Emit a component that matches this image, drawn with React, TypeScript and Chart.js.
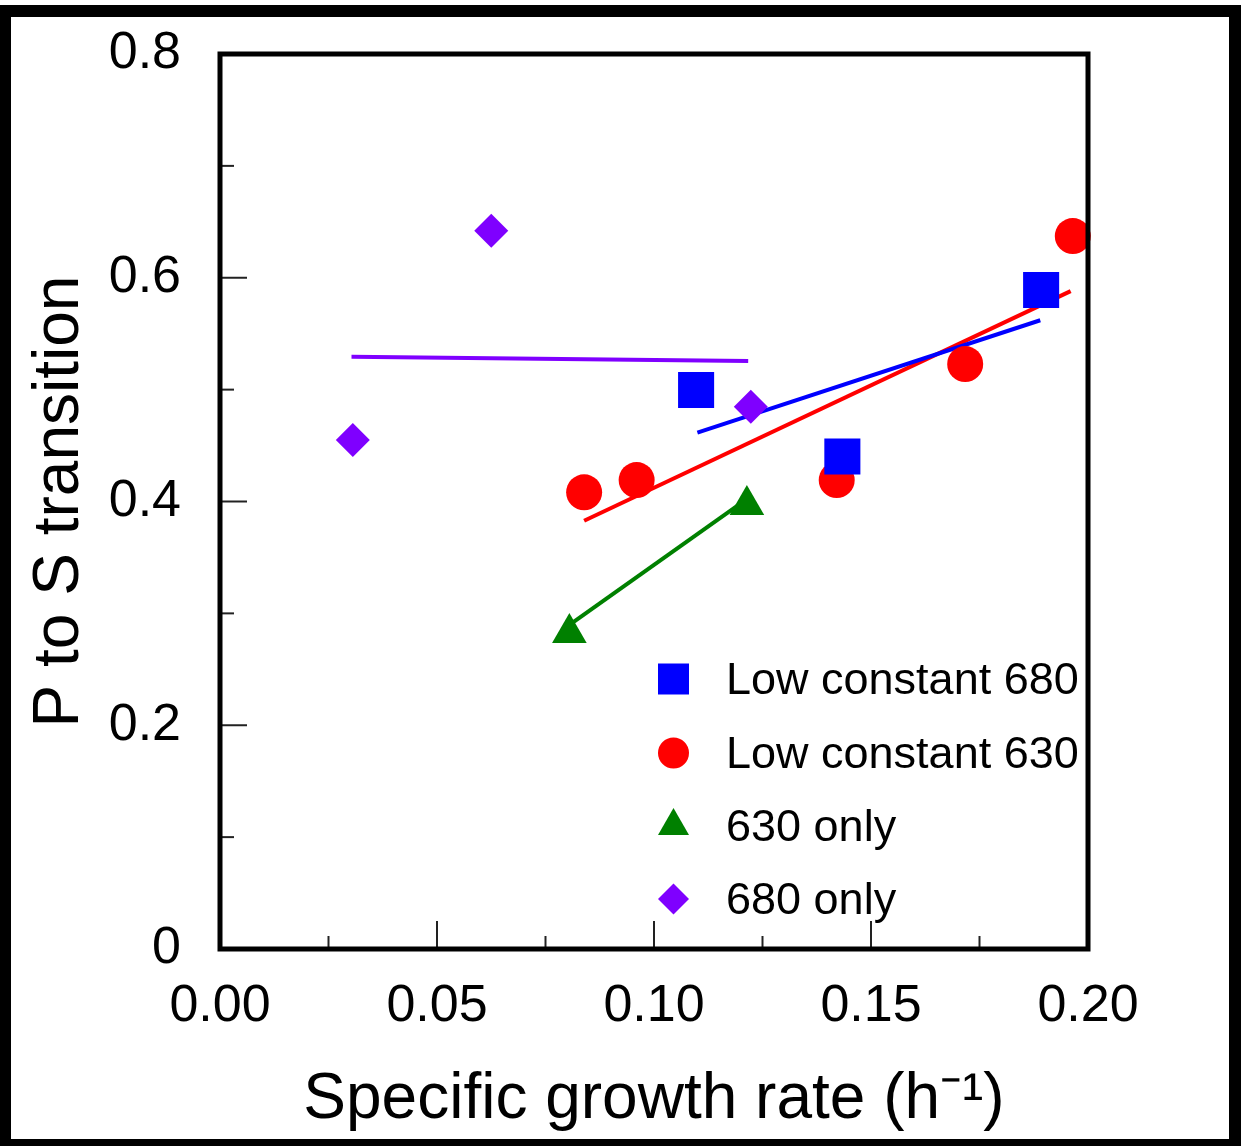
import React, { useEffect, useRef } from 'react';
import { Chart, registerables } from 'chart.js';

Chart.register(...registerables);

const FONT = '"Liberation Sans", Arial, Helvetica, sans-serif';

// Series meta
const seriesNames = ['Low constant 680', 'Low constant 630', '630 only', '680 only'];
const seriesColors = ['#0000ff', '#ff0000', '#008000', '#7f00ff'];
const seriesShapes = ['rect', 'circle', 'triangle', 'rectRot'];
const seriesRadius = [25.5, 18, 20, 17];

// Measured points
const lowConst680X = [0.1097, 0.1434, 0.1892];
const lowConst680Y = [0.4997, 0.4402, 0.589];
const lowConst630X = [0.0839, 0.096, 0.1421, 0.1717, 0.1965];
const lowConst630Y = [0.4082, 0.4192, 0.4192, 0.5229, 0.6373];
const only630X = [0.0805, 0.1214];
const only630Y = [0.2825, 0.3969];
const only680X = [0.0306, 0.0625, 0.1223];
const only680Y = [0.455, 0.642, 0.4847];

// Trend lines (end points)
const fit680X = [0.11, 0.189];
const fit680Y = [0.4615, 0.562];
const fit630X = [0.0839, 0.196];
const fit630Y = [0.3828, 0.588];
const fitOnly630X = [0.081, 0.1195];
const fitOnly630Y = [0.291, 0.397];
const fitOnly680X = [0.0303, 0.1217];
const fitOnly680Y = [0.5294, 0.5256];

// Axes
const xTickLabels = ['0.00', '0.05', '0.10', '0.15', '0.20'];
const yTickLabels = ['0', '0.2', '0.4', '0.6', '0.8'];
const xTitle = 'Specific growth rate (h\u207B\u00B9)';
const yTitle = 'P to S transition';

const zip = (xs: number[], ys: number[]) => xs.map((x, i) => ({ x, y: ys[i] }));

const pointSets = [
  zip(lowConst680X, lowConst680Y),
  zip(lowConst630X, lowConst630Y),
  zip(only630X, only630Y),
  zip(only680X, only680Y),
];
const lineSets = [
  zip(fit680X, fit680Y),
  zip(fit630X, fit630Y),
  zip(fitOnly630X, fitOnly630Y),
  zip(fitOnly680X, fitOnly680Y),
];

const framePlugin = {
  id: 'outerFrame',
  beforeDraw(chart: any) {
    const { ctx, width, height } = chart;
    ctx.save();
    ctx.fillStyle = '#ffffff';
    ctx.fillRect(0, 0, width, height);
    ctx.fillStyle = '#000000';
    ctx.fillRect(0, 5, width, 12);
    ctx.fillRect(0, 5, 11, height - 5);
    ctx.fillRect(width - 12, 5, 12, height - 5);
    ctx.fillRect(0, height - 7, width, 7);
    ctx.restore();
  },
};

const boxPlugin = {
  id: 'axisBox',
  afterDatasetsDraw(chart: any) {
    const { ctx, chartArea } = chart;
    const { left, right, top, bottom } = chartArea;
    const xs = chart.scales.x;
    const ys = chart.scales.y;
    ctx.save();
    ctx.strokeStyle = '#222';
    ctx.lineWidth = 2;
    xs.ticks.forEach((t: any, i: number) => {
      if (i === 0 || i === xs.ticks.length - 1) return;
      const px = xs.getPixelForValue(t.value);
      const len = i % 2 === 0 ? 28 : 13;
      ctx.beginPath();
      ctx.moveTo(px, bottom);
      ctx.lineTo(px, bottom - len);
      ctx.stroke();
    });
    ys.ticks.forEach((t: any, i: number) => {
      if (i === 0 || i === ys.ticks.length - 1) return;
      const py = ys.getPixelForValue(t.value);
      const len = i % 2 === 0 ? 27 : 14;
      ctx.beginPath();
      ctx.moveTo(left, py);
      ctx.lineTo(left + len, py);
      ctx.stroke();
    });
    ctx.strokeStyle = '#000';
    ctx.lineWidth = 5;
    ctx.lineJoin = 'miter';
    ctx.strokeRect(left, top, right - left, bottom - top);
    ctx.restore();
  },
};

function drawMarker(ctx: CanvasRenderingContext2D, shape: string, x: number, y: number, size: number) {
  ctx.beginPath();
  if (shape === 'rect') {
    ctx.rect(x - size / 2, y - size / 2, size, size);
  } else if (shape === 'circle') {
    ctx.arc(x, y, size / 2, 0, Math.PI * 2);
  } else if (shape === 'triangle') {
    const r = size / Math.sqrt(3);
    ctx.moveTo(x, y - r);
    ctx.lineTo(x + size / 2, y + r / 2);
    ctx.lineTo(x - size / 2, y + r / 2);
    ctx.closePath();
  } else {
    const h = size / 2;
    ctx.moveTo(x - h, y);
    ctx.lineTo(x, y - h);
    ctx.lineTo(x + h, y);
    ctx.lineTo(x, y + h);
    ctx.closePath();
  }
  ctx.fill();
}

const legendPlugin = {
  id: 'insideLegend',
  afterDraw(chart: any) {
    const { ctx } = chart;
    const markerX = 673.5;
    const textX = 726;
    const rows = [679, 753, 826, 899];
    ctx.save();
    ctx.font = `45px ${FONT}`;
    ctx.textBaseline = 'alphabetic';
    ctx.textAlign = 'left';
    seriesNames.forEach((name, i) => {
      ctx.fillStyle = seriesColors[i];
      drawMarker(ctx, seriesShapes[i], markerX, rows[i], 31);
      ctx.fillStyle = '#000';
      ctx.fillText(name, textX, rows[i] + 15);
    });
    ctx.restore();
  },
};

export default function App() {
  const canvasRef = useRef<HTMLCanvasElement | null>(null);

  useEffect(() => {
    const canvas = canvasRef.current;
    if (!canvas) return;
    const datasets: any[] = [];
    pointSets.forEach((pts, i) => {
      datasets.push({
        type: 'scatter',
        label: seriesNames[i],
        data: pts,
        pointStyle: seriesShapes[i],
        pointRadius: seriesRadius[i],
        pointHoverRadius: seriesRadius[i],
        pointBackgroundColor: seriesColors[i],
        pointBorderWidth: 0,
        borderColor: seriesColors[i],
        backgroundColor: seriesColors[i],
        showLine: false,
        clip: false,
      });
    });
    lineSets.forEach((pts, i) => {
      datasets.push({
        type: 'line',
        label: seriesNames[i] + ' fit',
        data: pts,
        borderColor: seriesColors[i],
        borderWidth: 4,
        pointRadius: 0,
        fill: false,
        tension: 0,
        clip: false,
      });
    });

    const chart = new Chart(canvas, {
      type: 'scatter',
      data: { datasets },
      options: {
        responsive: false,
        animation: false,
        devicePixelRatio: 1,
        layout: { padding: { top: 54, right: 153, left: 0, bottom: 0 } },
        plugins: {
          legend: { display: false },
          tooltip: { enabled: false },
        },
        scales: {
          x: {
            type: 'linear',
            min: 0,
            max: 0.2,
            grid: { display: false },
            border: { display: false },
            ticks: {
              stepSize: 0.025,
              autoSkip: false,
              maxRotation: 0,
              padding: 18,
              color: '#000',
              font: { family: FONT, size: 52 },
              callback: (_v: any, i: number) => (i % 2 === 0 ? xTickLabels[i / 2] : ''),
            },
            title: {
              display: true,
              text: xTitle,
              color: '#000',
              font: { family: FONT, size: 64 },
              padding: { top: 0, bottom: 7 },
            },
            afterFit: (s: any) => {
              s.height = 197;
              s.paddingLeft = 0;
              s.paddingRight = 0;
            },
          },
          y: {
            type: 'linear',
            min: 0,
            max: 0.8,
            grid: { display: false },
            border: { display: false },
            ticks: {
              stepSize: 0.1,
              autoSkip: false,
              padding: 31,
              color: '#000',
              font: { family: FONT, size: 52 },
              callback: (_v: any, i: number) => (i % 2 === 0 ? yTickLabels[i / 2] : ''),
            },
            title: {
              display: true,
              text: yTitle,
              color: '#000',
              font: { family: FONT, size: 64 },
              padding: { top: 22, bottom: 0 },
            },
            afterFit: (s: any) => {
              s.width = 220;
              s.paddingTop = 0;
              s.paddingBottom = 0;
            },
          },
        },
      },
      plugins: [framePlugin, boxPlugin, legendPlugin],
    } as any);

    return () => {
      chart.destroy();
    };
  }, []);

  return (
    <div style={{ position: 'absolute', left: 0, top: 0, width: 1241, height: 1146, background: '#fff' }}>
      <canvas ref={canvasRef} width={1241} height={1146} style={{ display: 'block' }} />
    </div>
  );
}
